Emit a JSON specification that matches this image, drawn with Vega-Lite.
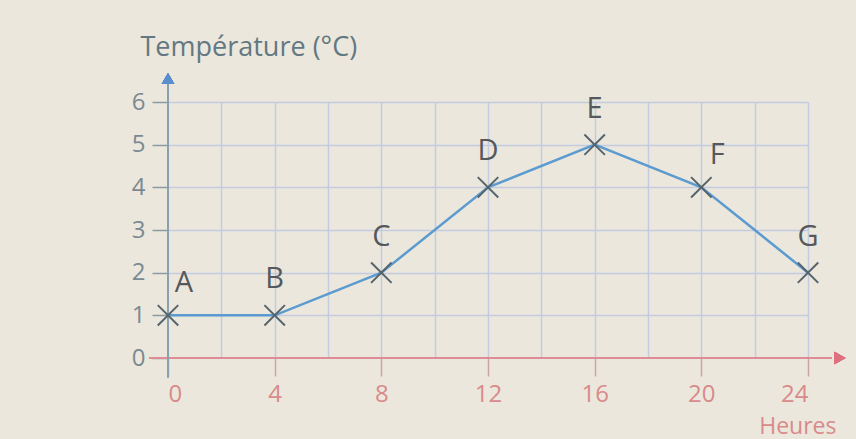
{
  "$schema": "https://vega.github.io/schema/vega-lite/v6.json",
  "autosize": "none",
  "width": 640,
  "height": 256,
  "padding": {"left": 168, "top": 102, "right": 48, "bottom": 81},
  "background": "#ece7dc",
  "config": {"view": {"stroke": null}, "font": "Open Sans"},
  "data": {"values": [
    {"heure": 0, "temp": 1, "point": "A"},
    {"heure": 4, "temp": 1, "point": "B"},
    {"heure": 8, "temp": 2, "point": "C"},
    {"heure": 12, "temp": 4, "point": "D"},
    {"heure": 16, "temp": 5, "point": "E"},
    {"heure": 20, "temp": 4, "point": "F"},
    {"heure": 24, "temp": 2, "point": "G"}
  ]},
  "encoding": {
    "x": {"field": "heure", "type": "quantitative",
      "scale": {"domain": [0, 24], "nice": false},
      "axis": {
        "values": [0, 2, 4, 6, 8, 10, 12, 14, 16, 18, 20, 22, 24],
        "labelExpr": "datum.value % 4 == 0 ? datum.label : ''",
        "domain": false,
        "grid": true,
        "gridColor": {"condition": {"test": "datum.value == 0", "value": "transparent"}, "value": "#c3cbe0"},
        "gridWidth": 1.5,
        "tickColor": "#c8a4a4",
        "tickOpacity": {"condition": {"test": "datum.value % 4 != 0", "value": 0}, "value": 1},
        "tickSize": 18,
        "tickWidth": 1.5,
        "labelColor": "#d98a8a",
        "labelFontSize": 24,
        "labelPadding": 6,
        "labelFont": "Open Sans",
        "title": "Heures",
        "titleColor": "#d98a8a",
        "titleFontSize": 23,
        "titleFontWeight": "normal",
        "titleFont": "Open Sans",
        "titleAlign": "right",
        "titleBaseline": "alphabetic",
        "titleX": 668,
        "titleY": 75
      }
    },
    "y": {"field": "temp", "type": "quantitative",
      "scale": {"domain": [0, 6], "nice": false},
      "axis": {
        "values": [0, 1, 2, 3, 4, 5, 6],
        "domain": false,
        "grid": true,
        "gridColor": {"condition": {"test": "datum.value == 0", "value": "transparent"}, "value": "#c3cbe0"},
        "gridWidth": 1.5,
        "tickColor": "#8a9aa2",
        "tickSize": 16,
        "tickWidth": 1.5,
        "labelColor": "#7a8a92",
        "labelFontSize": 24,
        "labelPadding": 7,
        "labelFont": "Open Sans",
        "title": "Température (°C)",
        "titleColor": "#627882",
        "titleFontSize": 27,
        "titleFontWeight": "normal",
        "titleFont": "Open Sans",
        "titleAngle": 0,
        "titleAlign": "left",
        "titleBaseline": "alphabetic",
        "titleX": -28,
        "titleY": -47
      }
    }
  },
  "layer": [
    {
      "mark": {"type": "rule", "color": "#de8c96", "strokeWidth": 2, "clip": false},
      "encoding": {
        "x": {"datum": -0.7}, "x2": {"datum": 24.9}, "y": {"datum": 0}
      }
    },
    {
      "mark": {"type": "rule", "color": "#8aa0b0", "strokeWidth": 2, "clip": false},
      "encoding": {
        "x": {"datum": 0}, "y": {"datum": -0.45}, "y2": {"datum": 6.45}
      }
    },
    {
      "mark": {"type": "point", "shape": "triangle-right", "filled": true, "color": "#e0707e", "size": 160, "opacity": 1, "clip": false},
      "encoding": {"x": {"datum": 25.2}, "y": {"datum": 0}}
    },
    {
      "mark": {"type": "point", "shape": "triangle-up", "filled": true, "color": "#5a8ecc", "size": 160, "opacity": 1, "clip": false},
      "encoding": {"x": {"datum": 0}, "y": {"datum": 6.55}}
    },
    {
      "mark": {"type": "line", "color": "#5b9bd0", "strokeWidth": 2.5, "clip": false}
    },
    {
      "mark": {"type": "point", "shape": "M-1,-1L1,1M-1,1L1,-1", "filled": false, "color": "#56646c", "strokeWidth": 2, "size": 420, "opacity": 1, "clip": false}
    },
    {
      "transform": [{"filter": "datum.point != 'A' && datum.point != 'F'"}],
      "mark": {"type": "text", "fontSize": 29, "color": "#55585c", "dy": -36, "font": "Open Sans", "clip": false},
      "encoding": {"text": {"field": "point"}}
    },
    {
      "transform": [{"filter": "datum.point == 'A' || datum.point == 'F'"}],
      "mark": {"type": "text", "fontSize": 29, "color": "#55585c", "dx": 16, "dy": -32, "font": "Open Sans", "clip": false},
      "encoding": {"text": {"field": "point"}}
    }
  ]
}
